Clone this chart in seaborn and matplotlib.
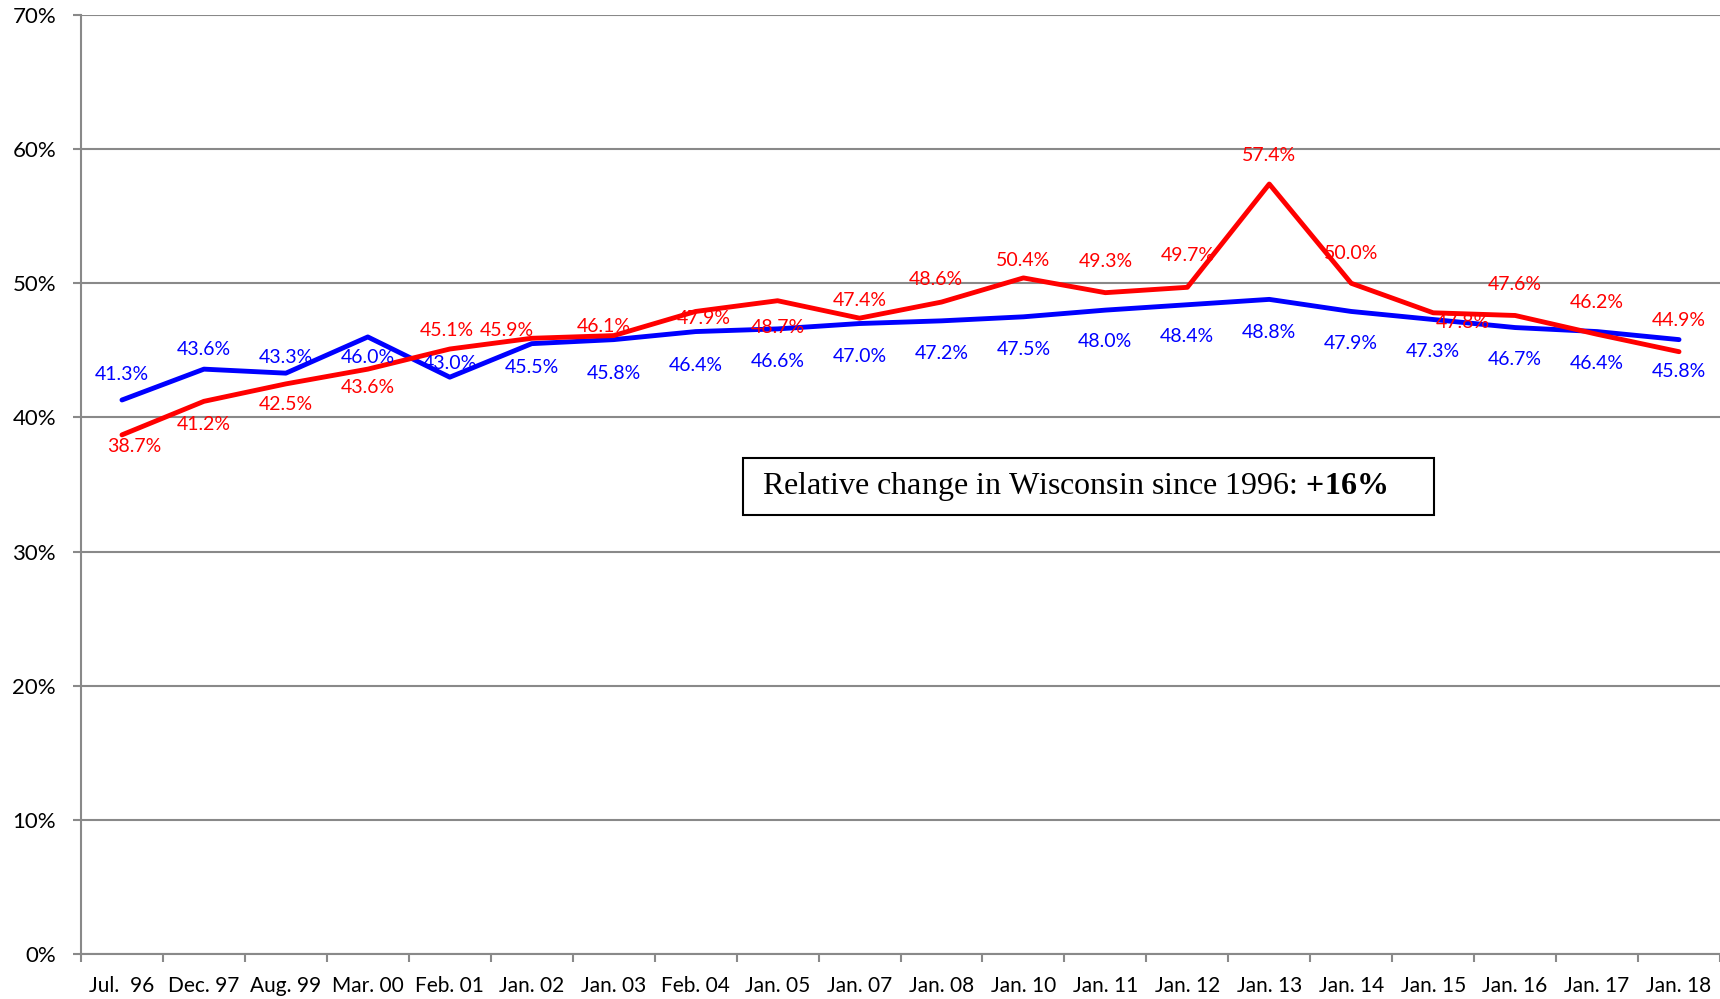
import matplotlib
matplotlib.use("Agg")
import matplotlib.pyplot as plt
import matplotlib.patches as patches
from matplotlib.ticker import FuncFormatter
import numpy as np
import pandas as pd
import seaborn as sns

# Data (percent)
periods = ["Jul.  96", "Dec. 97", "Aug. 99", "Mar. 00", "Feb. 01", "Jan. 02",
           "Jan. 03", "Feb. 04", "Jan. 05", "Jan. 07", "Jan. 08", "Jan. 10",
           "Jan. 11", "Jan. 12", "Jan. 13", "Jan. 14", "Jan. 15", "Jan. 16",
           "Jan. 17", "Jan. 18"]
series_blue = [41.3, 43.6, 43.3, 46.0, 43.0, 45.5, 45.8, 46.4, 46.6, 47.0,
               47.2, 47.5, 48.0, 48.4, 48.8, 47.9, 47.3, 46.7, 46.4, 45.8]
series_red = [38.7, 41.2, 42.5, 43.6, 45.1, 45.9, 46.1, 47.9, 48.7, 47.4,
              48.6, 50.4, 49.3, 49.7, 57.4, 50.0, 47.8, 47.6, 46.2, 44.9]
box_text = "Relative change in Wisconsin since 1996: $\\mathbf{+16\\%}$"

# label placement (offsets from the point, in data units)
blue_dy = [1.9, 1.45, 1.2, -1.55, 1.0, -1.75, -2.5, -2.5, -2.45, -2.45,
           -2.4, -2.4, -2.35, -2.4, -2.45, -2.4, -2.4, -2.4, -2.35, -2.4]
red_dy = [-0.85, -1.7, -1.5, -1.4, 1.4, 0.6, 0.65, -0.5, -2.0, 1.3,
          1.65, 1.3, 2.3, 2.35, 2.15, 2.2, -0.7, 2.3, 2.35, 2.3]
red_dx = [0.15, 0, 0, 0, -0.04, -0.3, -0.12, 0.1, 0, 0,
          -0.07, 0, 0, 0, 0, 0, 0.36, 0, 0, 0]

BLUE = "#0000ff"
RED = "#ff0000"
GRID = "#898989"

sns.set_theme(style="white")
plt.rcParams["font.family"] = ["Lato", "DejaVu Sans"]
plt.rcParams["text.color"] = "black"
plt.rcParams["mathtext.fontset"] = "custom"
plt.rcParams["mathtext.rm"] = "Liberation Serif"
plt.rcParams["mathtext.bf"] = "Liberation Serif:bold"

pos = np.arange(len(periods))
df = pd.DataFrame({
    "pos": np.concatenate([pos, pos]),
    "value": series_blue + series_red,
    "series": ["blue"] * len(pos) + ["red"] * len(pos),
})

fig = plt.figure(figsize=(17.2, 9.99), dpi=100)
ax = fig.add_axes([81 / 1720, 45 / 999, 1 - 81 / 1720, 939 / 999])

sns.lineplot(data=df, x="pos", y="value", hue="series",
             palette={"blue": BLUE, "red": RED}, linewidth=3.5,
             legend=False, sort=False, ax=ax)

for i, v in enumerate(series_blue):
    ax.text(i, v + blue_dy[i], f"{v:.1f}%", color=BLUE, fontsize=14,
            ha="center", va="center", zorder=5)
for i, v in enumerate(series_red):
    ax.text(i + red_dx[i], v + red_dy[i], f"{v:.1f}%", color=RED, fontsize=14,
            ha="center", va="center", zorder=5)

ax.set_xlim(-0.5, len(periods) - 0.5)
ax.set_ylim(0, 70)
ax.set_yticks(np.arange(0, 71, 10))
ax.yaxis.set_major_formatter(FuncFormatter(lambda y, _: f"{y:.0f}%"))
ax.set_xticks(pos)
ax.set_xticklabels(periods)
ax.set_xticks(np.arange(-0.5, len(periods), 1), minor=True)
ax.set_xlabel("")
ax.set_ylabel("")

ax.yaxis.grid(True, color=GRID, linewidth=1.5)
ax.set_axisbelow(True)
for s in ["top", "right"]:
    ax.spines[s].set_visible(False)
for s in ["left", "bottom"]:
    ax.spines[s].set_color(GRID)
    ax.spines[s].set_linewidth(1.5)

ax.tick_params(axis="y", left=True, length=6, width=1.5, color=GRID,
               labelsize=16, pad=12, labelcolor="black")
ax.tick_params(axis="x", which="major", bottom=True, length=0, labelsize=15,
               pad=16, labelcolor="black")
ax.tick_params(axis="x", which="minor", bottom=True, length=6, width=1.5,
               color=GRID)

# annotation box
ax.add_patch(patches.Rectangle((0.4039, 0.4675), 0.4216, 0.0607,
                               transform=ax.transAxes, facecolor="white",
                               edgecolor="black", linewidth=1.5, zorder=6))
ax.text(0.4155, 0.4979, box_text, transform=ax.transAxes, fontsize=23,
        family="Liberation Serif", color="black", ha="left", va="center",
        zorder=7)

fig.savefig("out.png", dpi=100)
